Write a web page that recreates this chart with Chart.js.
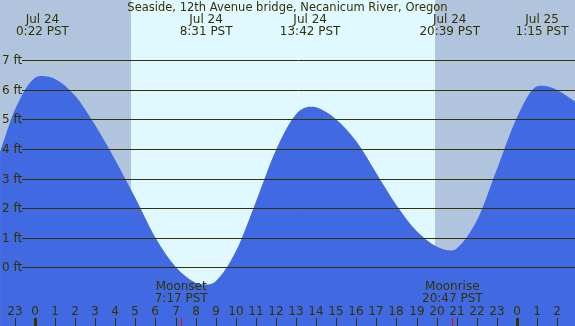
<!DOCTYPE html>
<html>
<head>
<meta charset="utf-8">
<script src="https://cdn.jsdelivr.net/npm/chart.js@4.4.0/dist/chart.umd.min.js"></script>
<style>
  body { margin: 0; background: #fff; }
  canvas { display: block; }
</style>
</head>
<body>
<canvas id="tideChart" width="575" height="326"></canvas>
<script>
const titleText = 'Seaside, 12th Avenue bridge, Necanicum River, Oregon';

// tide curve: hours from midnight Jul 24 (PST), height in ft
const tideHours = [-1.74, -1, 0, 0.37, 1, 2, 3, 4, 5, 6, 7, 8, 8.52, 9, 10, 11, 12, 13, 13.7,
  14, 15, 16, 17, 18, 19, 20, 20.65, 21, 22, 23, 24, 25, 25.25, 26, 26.9];
const tideFeet = [3.91, 5.33, 6.41, 6.47, 6.37, 5.8, 4.8, 3.62, 2.34, 1.0, 0.02, -0.52, -0.58, -0.47, 0.54, 2.22, 3.97, 5.18, 5.43,
  5.41, 5.0, 4.26, 3.18, 2.1, 1.23, 0.7, 0.57, 0.64, 1.58, 3.32, 5.07, 6.12, 6.14, 6.0, 5.6];

// highs and lows
const extremeHours = [0.37, 8.52, 13.7, 20.65, 25.25];
const extremeDates = ['Jul 24', 'Jul 24', 'Jul 24', 'Jul 24', 'Jul 25'];
const extremeTimes = ['0:22 PST', '8:31 PST', '13:42 PST', '20:39 PST', '1:15 PST'];

const sunriseHour = 4.78;
const sunsetHour = 19.92;

const moonHours = [7.28, 20.78];
const moonNames = ['Moonset', 'Moonrise'];
const moonTimes = ['7:17 PST', '20:47 PST'];

const hourTicks = [-1, 0, 1, 2, 3, 4, 5, 6, 7, 8, 9, 10, 11, 12, 13, 14, 15, 16, 17, 18, 19, 20, 21, 22, 23, 24, 25, 26];
const hourLabels = ['23', '0', '1', '2', '3', '4', '5', '6', '7', '8', '9', '10', '11', '12', '13', '14', '15', '16', '17', '18', '19', '20', '21', '22', '23', '0', '1', '2'];
const footTicks = [0, 1, 2, 3, 4, 5, 6, 7];
const footLabels = ['0 ft', '1 ft', '2 ft', '3 ft', '4 ft', '5 ft', '6 ft', '7 ft'];

const textColor = '#333300';
const font = '12px "DejaVu Sans"';

const tidePainter = {
  id: 'tidePainter',
  beforeDatasetsDraw(chart) {
    const { ctx, chartArea: a, scales: { x } } = chart;
    ctx.save();
    ctx.fillStyle = '#B0C4DE';
    ctx.fillRect(a.left, a.top, a.width, a.height);
    const x1 = Math.round(x.getPixelForValue(sunriseHour));
    const x2 = Math.round(x.getPixelForValue(sunsetHour));
    ctx.fillStyle = '#E0F8FF';
    ctx.fillRect(x1, a.top, x2 - x1, a.height);
    ctx.restore();
  },
  afterDatasetsDraw(chart) {
    const { ctx, chartArea: a, scales: { x, y } } = chart;
    ctx.save();
    ctx.font = font;
    ctx.fillStyle = textColor;

    // ft grid lines and labels
    ctx.strokeStyle = '#333300';
    ctx.lineWidth = 1;
    ctx.textAlign = 'left';
    ctx.textBaseline = 'middle';
    footTicks.forEach((v, i) => {
      const py = Math.round(y.getPixelForValue(v)) + 0.5;
      ctx.beginPath();
      ctx.moveTo(22, py);
      ctx.lineTo(a.right, py);
      ctx.stroke();
      ctx.fillText(footLabels[i], 2, py);
    });

    // title + high/low labels
    ctx.textAlign = 'center';
    ctx.font = '11.5px "DejaVu Sans"';
    ctx.fillText(titleText, a.width / 2, 8);
    ctx.font = font;
    extremeHours.forEach((h, i) => {
      const px = x.getPixelForValue(h);
      ctx.fillText(extremeDates[i], px, 20);
      ctx.fillText(extremeTimes[i], px, 32);
    });

    // moon events
    moonHours.forEach((h, i) => {
      const px = x.getPixelForValue(h);
      ctx.fillText(moonNames[i], px, 287);
      ctx.fillText(moonTimes[i], px, 299);
    });

    // hour ticks
    hourTicks.forEach((h, i) => {
      const px = Math.round(x.getPixelForValue(h));
      ctx.fillText(hourLabels[i], px, 312);
      if (hourLabels[i] === '0') {
        ctx.fillRect(px - 1, 318, 3, 8);
      } else {
        ctx.fillRect(px, 318, 1, 8);
      }
    });
    ctx.fillStyle = '#FF0000';
    moonHours.forEach((h) => {
      ctx.fillRect(Math.round(x.getPixelForValue(h)), 318, 1, 8);
    });
    ctx.restore();
  }
};

new Chart(document.getElementById('tideChart'), {
  type: 'line',
  data: {
    datasets: [{
      data: tideHours.map((h, i) => ({ x: h, y: tideFeet[i] })),
      borderWidth: 0,
      borderColor: 'rgba(0,0,0,0)',
      backgroundColor: '#4169E1',
      fill: 'start',
      pointRadius: 0,
      cubicInterpolationMode: 'monotone'
    }]
  },
  options: {
    responsive: false,
    animation: false,
    devicePixelRatio: 1,
    layout: { padding: 0 },
    plugins: {
      legend: { display: false },
      tooltip: { enabled: false }
    },
    scales: {
      x: { type: 'linear', display: false, min: -1.743, max: 26.89 },
      y: { display: false, min: -1.985, max: 9.04 }
    }
  },
  plugins: [tidePainter]
});
</script>
</body>
</html>
